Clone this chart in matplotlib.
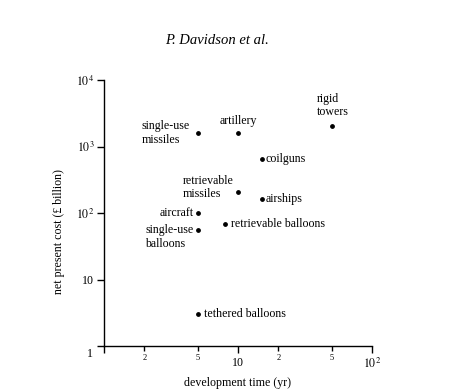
import matplotlib
matplotlib.use("Agg")
import matplotlib.pyplot as plt
from matplotlib.ticker import FixedLocator, NullFormatter

plt.rcParams['font.family'] = 'serif'
plt.rcParams['font.serif'] = ['Liberation Serif', 'DejaVu Serif']
plt.rcParams['mathtext.fontset'] = 'stix'

# data
names = ["single-use\nmissiles", "artillery", "rigid\ntowers", "coilguns",
         "retrievable\nmissiles", "airships", "aircraft", "single-use\nballoons",
         "retrievable balloons", "tethered balloons"]
dev_time = [5, 10, 50, 15, 10, 15, 5, 5, 8, 5]
cost = [1600, 1600, 2000, 650, 210, 165, 100, 55, 68, 3]

x_major = [1, 10, 100]
x_major_labels = ["", "10", r"$10^2$"]
x_minor = [2, 5, 20, 50]
x_minor_labels = ["2", "5", "2", "5"]
y_ticks = [1, 10, 100, 1000, 10000]
y_labels = ["", "10", r"$10^2$", r"$10^3$", r"$10^4$"]

# label placement (offset in pixels, ha, va)
placement = [(-8, 0, 'right', 'center'),
             (0, 6, 'center', 'bottom'),
             (-15, 8, 'left', 'bottom'),
             (4, 0, 'left', 'center'),
             (-4, 4, 'right', 'center'),
             (4, 0, 'left', 'center'),
             (-4, 0, 'right', 'center'),
             (-4, -7, 'right', 'center'),
             (6, 0, 'left', 'center'),
             (6, 0, 'left', 'center')]

fig = plt.figure(figsize=(4.61, 3.92), dpi=100)
ax = fig.add_axes([104/461, 46/392, 268/461, 266/392])
ax.set_xscale('log')
ax.set_yscale('log')
ax.set_xlim(1, 100)
ax.set_ylim(1, 10000)

ax.scatter(dev_time, cost, s=6, color='black', zorder=3)
for n, x, y, (dx, dy, ha, va) in zip(names, dev_time, cost, placement):
    ax.annotate(n, (x, y), xytext=(dx, dy), textcoords='offset pixels',
                ha=ha, va=va, ma='left', fontsize=8.6, linespacing=1.2)

for s in ['top', 'right']:
    ax.spines[s].set_visible(False)
for s in ['left', 'bottom']:
    ax.spines[s].set_linewidth(1.0)

ax.xaxis.set_major_locator(FixedLocator(x_major))
ax.set_xticklabels(x_major_labels, fontsize=8.6)
ax.xaxis.set_minor_locator(FixedLocator(x_minor))
ax.set_xticks(x_minor, labels=x_minor_labels, minor=True, fontsize=6)
ax.yaxis.set_major_locator(FixedLocator(y_ticks))
ax.set_yticklabels(y_labels, fontsize=8.6)
ax.yaxis.set_minor_formatter(NullFormatter())
ax.tick_params(axis='y', which='minor', length=0)
ax.tick_params(axis='both', which='major', direction='out', length=5, width=1.0, pad=2)
ax.tick_params(axis='x', which='major', pad=3)
ax.tick_params(axis='x', which='minor', direction='out', length=3.5, width=1.0, pad=2)

ax.text(-0.052, -0.03, "1", transform=ax.transAxes, fontsize=8.6, ha='center', va='center')

ax.set_xlabel("development time (yr)", fontsize=8.6, labelpad=4)
ax.set_ylabel("net present cost (£ billion)", fontsize=8.6)
ax.yaxis.set_label_coords(-0.146, 0.43)

fig.text(217/461, 1 - 41/392, "P. Davidson et al.", fontsize=10.5, style='italic',
         ha='center', va='center')

fig.savefig("out.png", dpi=100)
